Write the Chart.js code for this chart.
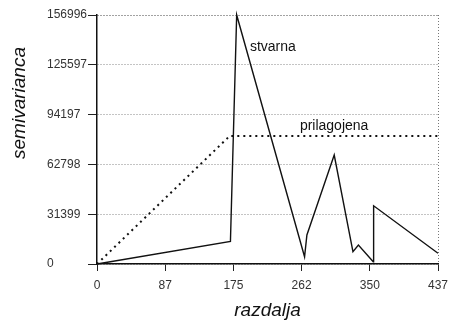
<!DOCTYPE html>
<html>
<head>
<meta charset="utf-8">
<script src="https://cdn.jsdelivr.net/npm/chart.js@4.4.1/dist/chart.umd.min.js"></script>
<style>
  html, body { margin: 0; padding: 0; background: #fff; }
  #wrap { width: 457px; height: 322px; }
</style>
</head>
<body>
<div id="wrap"><canvas id="chart" width="457" height="322"></canvas></div>
<script>
// semivariogram: measured (stvarna) vs fitted (prilagojena)

const xTicks = [0, 87.4, 174.8, 262.2, 349.6, 437];
const xTickLabels = ['0', '87', '175', '262', '350', '437'];
const yTicks = [0, 31399, 62798, 94197, 125597, 156996];
const yTickLabels = ['0', '31399', '62798', '94197', '125597', '156996'];

// stvarna (measured)
const stvarnaX = [0, 171, 179, 266, 269, 304, 328, 335, 354, 354.5, 437];
const stvarnaY = [0, 14200, 156996, 4600, 18300, 68700, 7750, 12000, 1450, 36700, 6750];

// prilagojena (fitted model)
const prilagojenaX = [0, 170, 437];
const prilagojenaY = [0, 80700, 80700];

const seriesNames = ['stvarna', 'prilagojena'];
// where the series names are written, in data units (left edge, baseline)
const nameAnchorX = [196, 260];
const nameAnchorY = [134300, 84500];

const FONT = '"Liberation Sans", Arial, sans-serif';

function points(xs, ys) {
    return xs.map((x, i) => ({ x: x, y: ys[i] }));
}

const textPlugin = {
    id: 'textPlugin',
    afterDraw(chart) {
        const { ctx, scales } = chart;
        ctx.save();
        ctx.fillStyle = '#111';
        // y axis title, drawn by hand since it sits above the axis centre
        ctx.font = 'italic 19px ' + FONT;
        ctx.textAlign = 'center';
        ctx.textBaseline = 'alphabetic';
        ctx.translate(25, 103);
        ctx.rotate(-Math.PI / 2);
        ctx.fillText('semivarianca', 0, 0);
        ctx.restore();

        ctx.save();
        ctx.fillStyle = '#111';
        ctx.font = '14px ' + FONT;
        ctx.textAlign = 'left';
        ctx.textBaseline = 'alphabetic';
        seriesNames.forEach((name, i) => {
            const px = scales.x.getPixelForValue(nameAnchorX[i]);
            const py = scales.y.getPixelForValue(nameAnchorY[i]);
            ctx.fillText(name, px, py);
        });
        ctx.restore();
    }
};

new Chart(document.getElementById('chart'), {
    type: 'line',
    data: {
        datasets: [
            {
                label: seriesNames[0],
                data: points(stvarnaX, stvarnaY),
                borderColor: '#111',
                borderWidth: 1.4,
                pointRadius: 0,
                tension: 0,
                fill: false,
                clip: false
            },
            {
                label: seriesNames[1],
                data: points(prilagojenaX, prilagojenaY),
                borderColor: '#111',
                borderWidth: 2,
                borderDash: [2, 4],
                pointRadius: 0,
                tension: 0,
                fill: false
            }
        ]
    },
    options: {
        responsive: false,
        animation: false,
        layout: { padding: { left: 47, right: 19, top: 15, bottom: 0 } },
        plugins: {
            legend: { display: false },
            tooltip: { enabled: false }
        },
        scales: {
            x: {
                type: 'linear',
                min: 0,
                max: 437,
                afterBuildTicks: s => { s.ticks = xTicks.map(v => ({ value: v })); },
                afterFit: s => { s.height = 58; },
                ticks: {
                    autoSkip: false,
                    maxRotation: 0,
                    padding: 7,
                    color: '#333',
                    font: { family: FONT, size: 12 },
                    callback: (v, i) => xTickLabels[i]
                },
                grid: {
                    drawOnChartArea: true,
                    color: c => (c.index === xTicks.length - 1 ? '#777' : 'rgba(0,0,0,0)'),
                    tickColor: '#222',
                    tickLength: 7,
                    tickBorderDash: []
                },
                border: { display: true, color: '#111', width: 1.5, dash: [1, 2] },
                title: {
                    display: true,
                    text: 'razdalja',
                    color: '#111',
                    font: { family: FONT, size: 19, style: 'italic' },
                    padding: { top: 0, bottom: 0 }
                }
            },
            y: {
                type: 'linear',
                min: 0,
                max: 156996,
                afterBuildTicks: s => { s.ticks = yTicks.map(v => ({ value: v })); },
                afterFit: s => { s.width = 50; },
                ticks: {
                    autoSkip: false,
                    crossAlign: 'far',
                    color: '#333',
                    font: { family: FONT, size: 12 },
                    callback: (v, i) => yTickLabels[i]
                },
                grid: {
                    color: c => (c.index === yTicks.length - 1 ? '#444' : '#888'),
                    lineWidth: 1,
                    tickColor: '#222',
                    tickLength: 9,
                    tickBorderDash: []
                },
                border: { display: true, color: '#111', width: 1.5, dash: [1, 2] }
            }
        }
    },
    plugins: [textPlugin]
});
</script>
</body>
</html>
